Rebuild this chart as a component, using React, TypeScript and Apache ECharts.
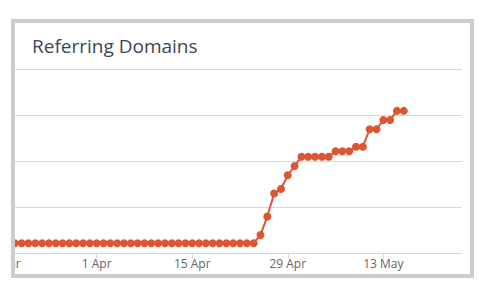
import React, { useEffect, useRef } from "react";
import * as echarts from "echarts";

// Day 0 = 18 Mar; one value per day
const startDate = { year: 2018, month: 2, day: 18 };
const monthNames = ["Jan", "Feb", "Mar", "Apr", "May", "Jun", "Jul", "Aug", "Sep", "Oct", "Nov", "Dec"];
const values: number[] = [
  // 18 Mar – 24 Apr (flat)
  11, 11, 11, 11, 11, 11, 11, 11, 11, 11, 11, 11, 11, 11,
  11, 11, 11, 11, 11, 11, 11, 11, 11, 11, 11, 11, 11, 11,
  11, 11, 11, 11, 11, 11, 11, 11, 11, 11,
  // 25 Apr – 1 May
  20, 40, 65, 70, 85, 95, 105,
  // 2 May – 16 May
  105, 105, 105, 105, 111, 111, 111, 116, 116, 135, 135, 145, 145, 155, 155,
];
const tickDays: number[] = [0, 14, 28, 42, 56];
const xMax = 67.53;
const yMax = 200;
const yInterval = 50;

function dayLabel(d: number): string {
  const dt = new Date(startDate.year, startDate.month, startDate.day + Math.round(d));
  return dt.getDate() + " " + monthNames[dt.getMonth()];
}

export default function App() {
  const ref = useRef<HTMLDivElement>(null);
  useEffect(() => {
    if (!ref.current) return;
    const chart = echarts.init(ref.current, null, { renderer: "svg" });
    chart.setOption({
      animation: false,
      backgroundColor: "#ffffff",
      grid: {
        left: 1.16,
        right: 23,
        top: 69.5,
        bottom: 37.7,
        containLabel: false,
        outerBoundsMode: "none",
      },
      xAxis: {
        type: "value",
        min: 0,
        max: xMax,
        interval: 14,
        splitLine: { show: false },
        axisLine: { show: true, lineStyle: { color: "#ccd6eb", width: 1 } },
        axisTick: { show: true, length: 5, lineStyle: { color: "#ccd6eb" }, customValues: tickDays },
        axisLabel: {
          show: true,
          customValues: tickDays,
          formatter: (v: number) => dayLabel(v),
          color: "#666666",
          fontFamily: "Open Sans",
          fontSize: 12,
          margin: 4,
          hideOverlap: false,
        },
      },
      yAxis: {
        type: "value",
        min: 0,
        max: yMax,
        interval: yInterval,
        axisLine: { show: false },
        axisTick: { show: false },
        axisLabel: { show: false },
        splitLine: { show: true, lineStyle: { color: "#d8d8d8", width: 1 } },
      },
      series: [
        {
          type: "line",
          data: values.map((v, i) => [i, v]),
          symbol: "circle",
          symbolSize: 8,
          showSymbol: true,
          clip: true,
          itemStyle: { color: "#dd5533" },
          lineStyle: { color: "#dd5533", width: 2 },
        },
      ],
      graphic: [
        {
          type: "rect",
          z: 100,
          shape: { x: 0, y: 0, width: 11, height: 291 },
          style: { fill: "#ffffff" },
        },
        {
          type: "rect",
          z: 101,
          shape: { x: 13, y: 21, width: 459, height: 255 },
          style: { fill: "none", stroke: "#cccccc", lineWidth: 4 },
        },
        {
          type: "text",
          z: 102,
          style: {
            text: "Referring Domains",
            x: 32,
            y: 46,
            fill: "#3b4754",
            font: "19px 'Open Sans'",
            verticalAlign: "middle",
          },
        },
      ],
    });
    return () => chart.dispose();
  }, []);
  return (
    <div
      ref={ref}
      style={{ position: "fixed", left: 0, top: 0, width: 485, height: 291 }}
    />
  );
}
